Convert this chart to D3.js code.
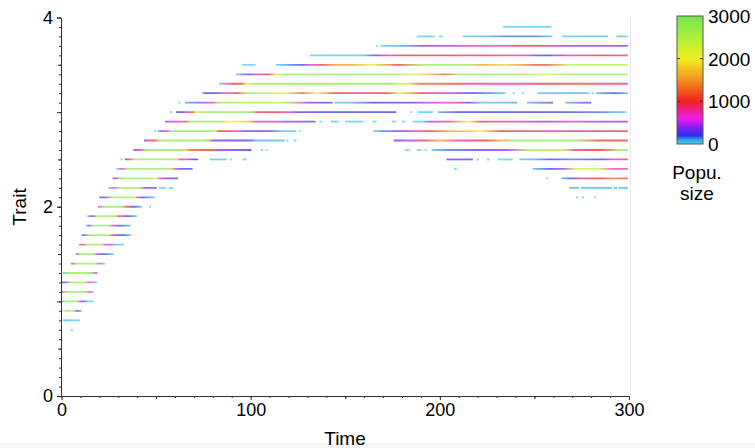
<!DOCTYPE html>
<html>
<head>
<meta charset="utf-8">
<script src="https://cdn.jsdelivr.net/npm/d3@7"></script>
<style>
  body { margin: 0; background: #fff; }
  svg { display: block; font-family: "Liberation Sans", Arial, Helvetica, sans-serif; }
</style>
</head>
<body>
<svg id="chart" width="755" height="448"></svg>
<script>
// trait levels (one horizontal line each)
const traitLevels = [0.7, 0.8, 0.9, 1.0, 1.1, 1.2, 1.3, 1.4, 1.5, 1.6, 1.7, 1.8, 1.9, 2.0, 2.1,
  2.2, 2.3, 2.4, 2.5, 2.6, 2.7, 2.8, 2.9, 3.0, 3.1, 3.2, 3.3, 3.4, 3.5, 3.6, 3.7, 3.8, 3.9];

// time intervals where each trait exists
const segments = [
  [[5, 6]],
  [[0.8, 9.8]],
  [[0, 10.7]],
  [[0, 17]],
  [[0.2, 17]],
  [[0.3, 18.8]],
  [[0.8, 19]],
  [[5, 23]],
  [[7.6, 27.7]],
  [[9.2, 33]],
  [[10.8, 37]],
  [[12.9, 36.7]],
  [[13.6, 40]],
  [[19.3, 42.5], [46.3, 47.3]],
  [[20, 49.4], [272, 273], [275.2, 276.2], [281.7, 282.7]],
  [[24.6, 50.4], [51.6, 55.2], [56.6, 59.2], [268.3, 273.5], [274.5, 291], [291.8, 293.7], [294.5, 299.4]],
  [[27, 61.6], [256.3, 257.3], [264.2, 299.4]],
  [[29, 69.3], [207.4, 209], [249, 299.4]],
  [[31.2, 32.2], [33.5, 72.3], [78.5, 87.5], [89, 90], [95.7, 98], [203.5, 217.5], [219.5, 220.5],
    [224.8, 226.3], [230.6, 238.5], [242, 299.4]],
  [[38, 100.6], [105.5, 106.5], [108, 109], [181.5, 184], [187.8, 190.4], [192, 193], [195.7, 299.4]],
  [[43.6, 118], [119, 120], [122.8, 124.2], [175.6, 299.4]],
  [[48.9, 49.9], [50.8, 124.2], [125.6, 126.4], [164.7, 299.4]],
  [[54.7, 134.3], [136.5, 137.5], [142.4, 146.6], [150, 159.3], [164.5, 166.6], [174.6, 177],
    [180, 181.5], [185.7, 299.4]],
  [[57.5, 58.5], [60.5, 177], [184.5, 185.5], [188.3, 196.3], [199, 298.6]],
  [[61.8, 62.8], [65.2, 143.5], [144.5, 241], [246, 259.8], [266.4, 280]],
  [[74.2, 234.8], [238.5, 239.5], [243.3, 244.3], [251.7, 279], [280.3, 281.3], [282.7, 299.4]],
  [[83.4, 299.4]],
  [[92.2, 299.4]],
  [[95.5, 102.6], [113.3, 299.4]],
  [[131.3, 299.4]],
  [[166.1, 167.1], [168.8, 299.4]],
  [[187.8, 197.3], [199.5, 201.5], [212, 259.5], [264.8, 288.9], [293.3, 299.4]],
  [[233.4, 259]]
];

// population size along each line: [time, size]
const populations = [
  [[5, 30], [6, 30]],
  [[0.8, 100], [5, 60], [9.8, 30]],
  [[0, 2000], [3, 2800], [6, 2500], [7.5, 600], [8.5, 200], [10.7, 30]],
  [[0, 30], [3, 2800], [8, 2800], [9.5, 650], [11, 200], [14, 50], [17, 30]],
  [[0.2, 800], [3, 2800], [12, 2800], [15, 650], [17, 30]],
  [[0.3, 200], [2, 400], [5, 2800], [12, 2800], [15, 650], [18.8, 30]],
  [[0.8, 50], [4, 2800], [15, 2800], [19, 500]],
  [[5, 300], [8, 2800], [18, 2800], [20, 650], [23, 30]],
  [[7.6, 200], [10, 2800], [17, 2800], [19, 500], [22, 200], [27.7, 30]],
  [[9.2, 100], [11, 900], [14, 2800], [21, 2700], [23, 650], [26, 650], [29, 50], [33, 30]],
  [[10.8, 200], [12, 400], [15, 2800], [25, 2800], [27, 900], [30, 200], [33, 200], [37, 30]],
  [[12.9, 30], [14.5, 400], [17, 2800], [25, 2800], [27, 650], [31, 200], [36.7, 30]],
  [[13.6, 30], [16, 300], [19, 2800], [27, 2800], [29, 1600], [30, 1000], [32, 650], [35, 200], [40, 30]],
  [[19.3, 650], [23, 2800], [31, 2800], [35, 900], [38, 200], [42.5, 30], [47.3, 30]],
  [[20, 200], [23, 400], [27, 2800], [36, 2800], [39, 1800], [40, 700], [43, 200], [49.4, 30], [272, 30], [282.7, 30]],
  [[24.6, 30], [28, 650], [31, 2800], [41, 2700], [44, 400], [50.4, 300], [51.6, 50], [59.2, 30],
    [268.3, 80], [299.4, 80]],
  [[27, 200], [29, 900], [32, 2800], [46, 2800], [50, 2300], [52, 650], [55, 400], [58, 250], [61.6, 200],
    [256.3, 30], [257.3, 30], [264.2, 100], [270, 200], [275, 800], [285, 1000], [292, 1400], [299.4, 1000]],
  [[29, 30], [32, 700], [35, 2800], [58, 2800], [60, 1200], [62, 400], [65, 250], [69.3, 200], [207.4, 30],
    [209, 30], [249, 50], [258, 200], [265, 400], [272, 2300], [284, 2300], [292, 700], [299.4, 700]],
  [[31.2, 30], [33.5, 200], [36, 900], [39, 2800], [59, 2800], [61, 1800], [63, 1000], [65, 600], [68, 400],
    [71, 200], [72.3, 200], [78.5, 50], [98, 30], [203.5, 300], [217.5, 300], [219.5, 30], [238.5, 30],
    [242, 50], [250, 100], [258, 250], [270, 150], [285, 200], [292, 650], [299.4, 1000]],
  [[38, 300], [42, 700], [45, 2800], [63, 2800], [65, 1800], [68, 1200], [80, 1000], [83, 400], [100, 250],
    [101, 30], [193, 30], [195.7, 50], [205, 150], [220, 350], [235, 400], [247, 2500], [265, 2500],
    [272, 800], [285, 1000], [295, 2800], [299.4, 2800]],
  [[43.6, 200], [46, 800], [49, 1000], [52, 2800], [76, 2800], [78, 1500], [80, 300], [100, 250], [103, 80],
    [124.2, 30], [175.6, 300], [186, 500], [192, 900], [200, 1600], [210, 800], [225, 1000], [232, 1500],
    [240, 2800], [272, 2800], [285, 1000], [299.4, 1000]],
  [[48.9, 30], [50.8, 50], [53, 300], [56, 650], [58, 2900], [80, 2900], [81, 2000], [83, 1000], [89, 1000],
    [92, 650], [98, 300], [110, 300], [117, 50], [126.4, 30], [164.7, 30], [170, 150], [180, 350], [188, 700],
    [195, 1000], [205, 1500], [215, 1700], [222, 2000], [232, 1000], [260, 800], [285, 900], [299.4, 1000]],
  [[54.7, 300], [58, 500], [62, 800], [66, 900], [68, 2800], [85, 2800], [88, 2000], [98, 1800], [103, 800],
    [114, 700], [117, 400], [134.3, 300], [136.5, 30], [185.7, 30], [190, 50], [195, 400], [205, 800],
    [215, 2000], [222, 1000], [226, 900], [240, 800], [255, 350], [270, 800], [285, 400], [299.4, 350]],
  [[57.5, 30], [60.5, 200], [64, 250], [67, 800], [70, 1100], [71, 2000], [73, 2900], [100, 2900], [104, 1000],
    [110, 900], [116, 1000], [120, 650], [125, 250], [177, 200], [184.5, 30], [196.3, 30], [199, 100],
    [210, 200], [260, 200], [285, 150], [298.6, 30]],
  [[61.8, 30], [65.2, 100], [72, 150], [77, 500], [80, 700], [82.5, 1600], [85, 2800], [114, 2600], [118, 2800],
    [124, 1400], [130, 400], [142, 300], [146, 50], [152, 50], [165, 200], [185, 350], [200, 600], [208, 700],
    [215, 250], [222, 50], [241, 100], [246, 80], [259.8, 300], [266.4, 80], [280, 300]],
  [[74.2, 30], [76, 200], [82, 200], [86, 650], [89, 800], [93, 1000], [96, 1500], [99, 2800], [106, 2600],
    [114, 2300], [118, 2000], [127, 1200], [135, 2000], [145, 1000], [160, 800], [172, 1000], [179, 2000],
    [190, 1000], [204, 500], [218, 200], [234.8, 50], [251.7, 50], [270, 100], [281.3, 30], [282.7, 100],
    [292, 200], [299.4, 100]],
  [[83.4, 50], [90, 900], [95, 1000], [98, 2000], [102, 2800], [175, 2800], [182, 2000], [190, 1200],
    [208, 1100], [217, 800], [240, 750], [255, 1000], [275, 1100], [299.4, 800]],
  [[92.2, 50], [99, 300], [103, 650], [109, 1000], [114, 2000], [118, 2800], [178, 2800], [186, 2200],
    [198, 1500], [202, 1200], [210, 2800], [240, 2800], [255, 2200], [270, 2800], [299.4, 2800]],
  [[95.5, 30], [102.6, 30], [113.3, 30], [127, 200], [132, 650], [137, 1000], [145, 1500], [152, 1500],
    [165, 2200], [178, 1000], [190, 2800], [215, 2800], [221, 1500], [235, 1800], [252, 1100], [258, 1200],
    [268, 2500], [299.4, 2500]],
  [[131.3, 30], [160, 50], [166, 200], [173, 650], [182, 1000], [226, 900], [245, 700], [250, 300], [256, 200],
    [263, 400], [270, 700], [285, 1000], [299.4, 800]],
  [[166.1, 30], [168.8, 30], [180, 100], [191, 350], [205, 450], [221, 700], [230, 750], [245, 1000],
    [256, 900], [265, 400], [299.4, 350]],
  [[187.8, 30], [212, 30], [225, 80], [235, 150], [250, 150], [259.5, 50], [264.8, 30], [288.9, 60], [299.4, 40]],
  [[233.4, 30], [259, 30]]
];

const xTickLabels = [0, 100, 200, 300];
const yTickLabels = [0, 2, 4];
const popTickLabels = [0, 1000, 2000, 3000];

const svg = d3.select("#chart");

// scales
const x = d3.scaleLinear().domain([0, 300]).range([61.5, 629]);
const y = d3.scaleLinear().domain([0, 4]).range([396, 17.5]);

// colour function for population size
const popColor = d3.scaleLinear()
  .domain([0, 100, 200, 400, 600, 800, 1000, 1500, 2000, 2500, 3000])
  .range(["#3ed8f4", "#3a9cf0", "#2430e6", "#8c1cf0", "#ee1ee8", "#f01e8c", "#f0201e",
          "#f2921e", "#f2ee22", "#aef03a", "#72e650"])
  .clamp(true);

const defs = svg.append("defs");

// frame edge on the right
svg.append("line")
  .attr("x1", 630.5).attr("x2", 630.5)
  .attr("y1", 17).attr("y2", 396)
  .attr("stroke", "#ececec");

// bottom band
svg.append("rect")
  .attr("x", 0).attr("y", 443).attr("width", 755).attr("height", 5)
  .attr("fill", "#f6f6f6");

// lines
const plot = svg.append("g");
traitLevels.forEach((tr, i) => {
  const pts = populations[i];
  const x1 = x(pts[0][0]), x2 = x(pts[pts.length - 1][0]);
  const grad = defs.append("linearGradient")
    .attr("id", "g" + i)
    .attr("gradientUnits", "userSpaceOnUse")
    .attr("x1", x1).attr("x2", x2)
    .attr("y1", 0).attr("y2", 0);
  grad.selectAll("stop")
    .data(pts)
    .enter().append("stop")
    .attr("offset", d => (x(d[0]) - x1) / (x2 - x1))
    .attr("stop-color", d => popColor(d[1]));

  plot.selectAll(".s" + i)
    .data(segments[i])
    .enter().append("line")
    .attr("class", "s" + i)
    .attr("x1", d => x(d[0]))
    .attr("x2", d => x(d[1]))
    .attr("y1", y(tr))
    .attr("y2", y(tr))
    .attr("stroke", "url(#g" + i + ")")
    .attr("stroke-width", 1.8)
    .attr("stroke-opacity", 0.7);
});

// axes
function styleAxis(g) {
  g.select(".domain").attr("stroke", "#333");
  g.selectAll(".tick line").attr("stroke", "#333");
  g.selectAll("text").attr("fill", "#000").style("font-size", "18px")
    .style("font-family", '"Liberation Sans", Arial, sans-serif');
}

const yAxisG = svg.append("g").attr("transform", "translate(61,0)");
yAxisG.append("g")
  .call(d3.axisLeft(y).tickValues(d3.range(0, 41).map(d => d / 10)).tickSize(2).tickFormat("").tickSizeOuter(0))
  .call(styleAxis);
yAxisG.append("g")
  .call(d3.axisLeft(y).tickValues([0.5, 1.5, 2.5, 3.5]).tickSize(3).tickFormat("").tickSizeOuter(0))
  .call(styleAxis);
yAxisG.append("g")
  .call(d3.axisLeft(y).tickValues([0, 1, 2, 3, 4]).tickSize(4).tickFormat("").tickSizeOuter(0))
  .call(styleAxis);
yAxisG.append("g")
  .call(d3.axisLeft(y).tickValues(yTickLabels).tickSize(4).tickPadding(4)
    .tickFormat(d3.format("d")).tickSizeOuter(0))
  .call(styleAxis);

const xAxisG = svg.append("g").attr("transform", "translate(0,396)");
xAxisG.append("g")
  .call(d3.axisBottom(x).tickValues(d3.range(0, 31).map(d => d * 10)).tickSize(2).tickFormat("").tickSizeOuter(0))
  .call(styleAxis);
xAxisG.append("g")
  .call(d3.axisBottom(x).tickValues([50, 150, 250]).tickSize(3).tickFormat("").tickSizeOuter(0))
  .call(styleAxis);
xAxisG.append("g")
  .call(d3.axisBottom(x).tickValues(xTickLabels).tickSize(4).tickPadding(3)
    .tickFormat(d3.format("d")).tickSizeOuter(0))
  .call(styleAxis);

// axis titles
svg.append("text")
  .attr("x", 345).attr("y", 445)
  .attr("text-anchor", "middle")
  .style("font-size", "19px")
  .text("Time");

svg.append("text")
  .attr("transform", "translate(26,207) rotate(-90)")
  .attr("text-anchor", "middle")
  .style("font-size", "19px")
  .text("Trait");

// colour bar
const barX = 677, barW = 26;
const popY = d3.scaleLinear().domain([0, 3000]).range([144, 16]);
const barGrad = defs.append("linearGradient")
  .attr("id", "barGrad")
  .attr("x1", 0).attr("x2", 0).attr("y1", 1).attr("y2", 0);
barGrad.selectAll("stop")
  .data(d3.range(0, 31).map(d => d * 100))
  .enter().append("stop")
  .attr("offset", d => d / 3000)
  .attr("stop-color", d => popColor(d));

svg.append("rect")
  .attr("x", barX).attr("y", popY(3000))
  .attr("width", barW).attr("height", popY(0) - popY(3000))
  .attr("fill", "url(#barGrad)")
  .attr("stroke", "#555").attr("stroke-width", 1);

const barTicks = svg.append("g");
barTicks.selectAll(".lt")
  .data([1000, 2000])
  .enter().append("line")
  .attr("x1", barX).attr("x2", barX + 3)
  .attr("y1", d => popY(d)).attr("y2", d => popY(d))
  .attr("stroke", "#333");
barTicks.selectAll(".rt")
  .data([1000, 2000])
  .enter().append("line")
  .attr("x1", barX + barW - 3).attr("x2", barX + barW)
  .attr("y1", d => popY(d)).attr("y2", d => popY(d))
  .attr("stroke", "#333");

svg.selectAll(".poplabel")
  .data(popTickLabels)
  .enter().append("text")
  .attr("class", "poplabel")
  .attr("x", barX + barW + 5)
  .attr("y", d => popY(d))
  .attr("dy", "0.36em")
  .style("font-size", "19px")
  .text(d => d);

svg.append("text")
  .attr("x", 697).attr("y", 179)
  .attr("text-anchor", "middle")
  .style("font-size", "19px")
  .text("Popu.");
svg.append("text")
  .attr("x", 697).attr("y", 200)
  .attr("text-anchor", "middle")
  .style("font-size", "19px")
  .text("size");
</script>
</body>
</html>
